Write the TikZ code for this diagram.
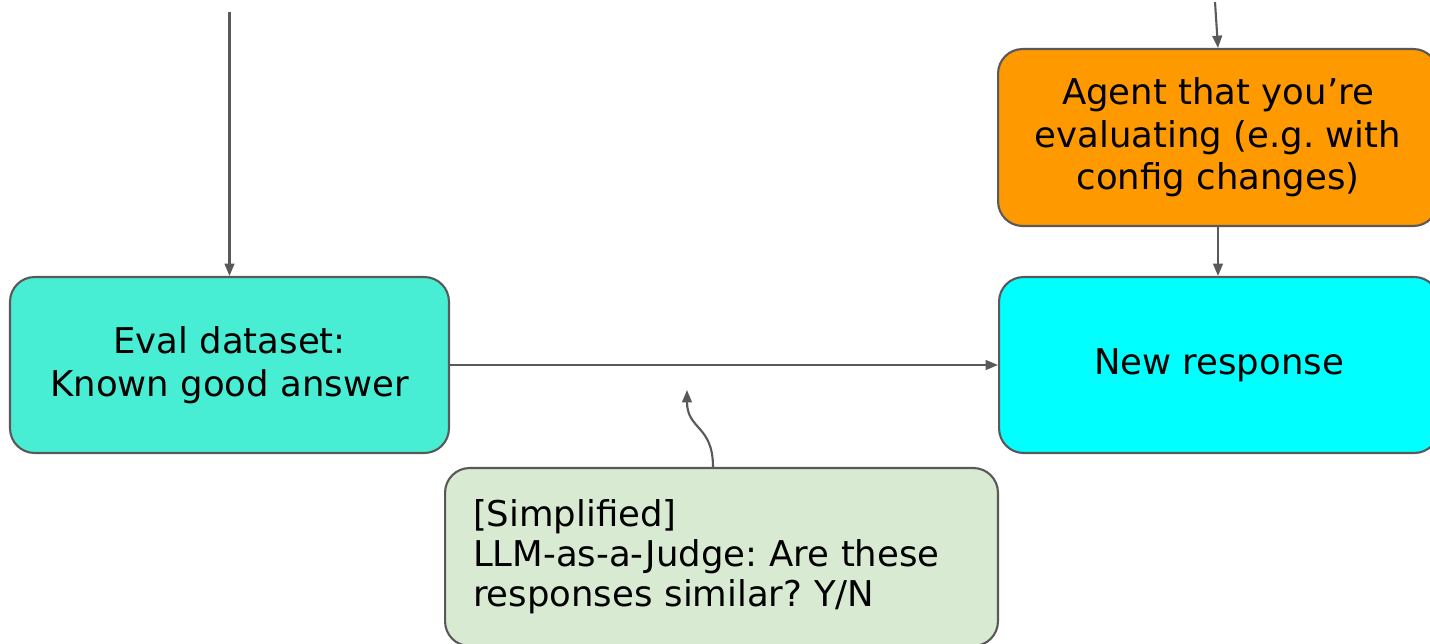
\documentclass[tikz,border=0pt]{standalone}
\usepackage{fontspec}
\setmainfont{DejaVu Sans}
\usetikzlibrary{arrows.meta}
\frenchspacing
\definecolor{linegray}{RGB}{89,89,89}
\definecolor{evalfill}{RGB}{72,238,212}
\definecolor{respfill}{RGB}{0,255,255}
\definecolor{agentfill}{RGB}{255,153,0}
\definecolor{judgefill}{RGB}{217,234,211}
\tikzstyle{box}=[draw=linegray,line width=1.2pt,rounded corners=14pt,align=center,inner sep=0pt,font=\fontsize{20.2}{24.2}\selectfont\frenchspacing]
\tikzstyle{edge}=[draw,linegray,line width=1.2pt,-{Triangle[length=7pt,width=5.5pt]}]

\begin{document}
\begin{tikzpicture}[x=0.02cm,y=-0.02cm]
				\useasboundingbox (0,0) rectangle (1430,643);

				% First the boxes
				\node[box,fill=evalfill,minimum width=8.78cm,minimum height=3.52cm] (eval) at (229.5,365) {Eval dataset:\\Known good answer};
				\node[box,fill=respfill,minimum width=8.8cm,minimum height=3.52cm] (resp) at (1219,365) {New response};
				\node[box,fill=agentfill,minimum width=8.8cm,minimum height=3.54cm] (agent) at (1218,137.5) {Agent that you’re\\evaluating (e.g. with\\config changes)};
				\node[box,fill=judgefill,text width=9.94cm,inner xsep=0.56cm,minimum height=3.56cm,align=left,font=\fontsize{20.2}{22.7}\selectfont\frenchspacing] (judge) at (721.5,557) {[Simplified]\\LLM-as-a-Judge: Are these\\responses similar? Y/N};

				% Free ends of the connectors
				\coordinate (evaltop) at (229.5,12);
				\coordinate (agenttop) at (1215,2);
				\coordinate (judged) at (687,390);

				% Connect the boxes
				\path[edge] (evaltop) -- (eval.north);
				\path[edge] (agenttop) -- (agent.north);
				\path[edge] (agent.south) -- (agent.south |- resp.north);
				\path[edge] (eval.east) -- (resp.west);
				\path[edge] ([xshift=-0.17cm]judge.north) .. controls (713,425) and (687,430) .. (judged);

			\end{tikzpicture}
\end{document}
